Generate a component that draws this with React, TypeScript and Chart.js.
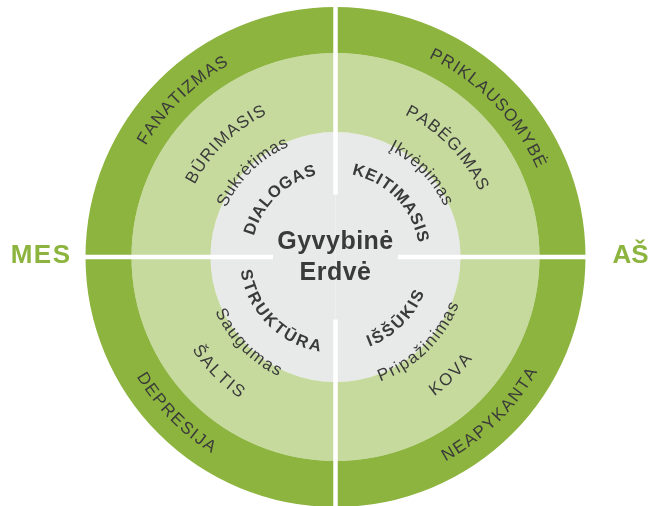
import React, { useEffect, useRef } from 'react';
import { Chart, registerables } from 'chart.js';

Chart.register(...registerables);

// ---- data ----
const quadrants = ['viršus dešinė', 'apačia dešinė', 'apačia kairė', 'viršus kairė'];
const segmentShare = [1, 1, 1, 1];
const outerLabels = ['PRIKLAUSOMYBĖ', 'NEAPYKANTA', 'DEPRESIJA', 'FANATIZMAS'];
const middleLabels = ['PABĖGIMAS', 'KOVA', 'ŠALTIS', 'BŪRIMASIS'];
const innerLabels = ['Įkvėpimas', 'Pripažinimas', 'Saugumas', 'Sukrėtimas'];
const coreLabels = ['KEITIMASIS', 'IŠŠŪKIS', 'STRUKTŪRA', 'DIALOGAS'];
const centerLines = ['Gyvybinė', 'Erdvė'];
const sideLabels = ['MES', 'AŠ'];

// ---- styles ----
const DARK = '#8CB43E';
const LIGHT = '#C6DA9E';
const GRAY = '#E8E9E9';
const TEXT = '#3A3A3A';
const FONT = '"Liberation Sans", Arial, Helvetica, sans-serif';
const CAP = 0.716;

function arcText(
  ctx: CanvasRenderingContext2D,
  text: string,
  cx: number,
  cy: number,
  r: number,
  mid: number,
  size: number,
  weight: string,
  spacing: number,
  color: string
) {
  ctx.save();
  ctx.font = `${weight} ${size}px ${FONT}`;
  ctx.fillStyle = color;
  ctx.textAlign = 'center';
  ctx.textBaseline = 'alphabetic';
  const capH = size * CAP;
  const chars = Array.from(text);
  const widths = chars.map((c) => ctx.measureText(c).width);
  const total = widths.reduce((a, b) => a + b, 0) + spacing * (chars.length - 1);
  const top = Math.sin(mid) < 0;
  let acc = 0;
  chars.forEach((ch, i) => {
    const off = (acc + widths[i] / 2 - total / 2) / r;
    acc += widths[i] + spacing;
    ctx.save();
    ctx.translate(cx, cy);
    if (top) {
      ctx.rotate(mid + off + Math.PI / 2);
      ctx.fillText(ch, 0, -r + capH / 2);
    } else {
      ctx.rotate(mid - off - Math.PI / 2);
      ctx.fillText(ch, 0, r + capH / 2);
    }
    ctx.restore();
  });
  ctx.restore();
}

const decorPlugin = {
  id: 'decor',
  afterDatasetsDraw(chart: any) {
    const ctx: CanvasRenderingContext2D = chart.ctx;
    const outer = chart.getDatasetMeta(0).data;
    const middle = chart.getDatasetMeta(1).data;
    const core = chart.getDatasetMeta(2).data;
    const cx = outer[0].x;
    const cy = outer[0].y;
    const R = outer[0].outerRadius;
    const coreR = core[0].outerRadius;

    // white separators
    ctx.save();
    ctx.strokeStyle = '#FFFFFF';
    ctx.lineWidth = 4.5;
    ctx.lineCap = 'butt';
    outer.forEach((arc: any) => {
      const a = arc.startAngle;
      const r0 = coreR * 0.5;
      const r1 = R + 4;
      ctx.beginPath();
      ctx.moveTo(cx + Math.cos(a) * r0, cy + Math.sin(a) * r0);
      ctx.lineTo(cx + Math.cos(a) * r1, cy + Math.sin(a) * r1);
      ctx.stroke();
    });
    ctx.restore();

    // ring labels
    outer.forEach((arc: any, i: number) => {
      const mid = (arc.startAngle + arc.endAngle) / 2 + 0.012;
      arcText(ctx, outerLabels[i], cx, cy, (arc.innerRadius + arc.outerRadius) / 2 - 1, mid, 17, 'normal', 1.4, TEXT);
      const m = middle[i];
      arcText(ctx, middleLabels[i], cx, cy, (m.innerRadius + m.outerRadius) / 2, mid, 17, 'normal', 1.6, TEXT);
      arcText(ctx, innerLabels[i], cx, cy, m.innerRadius + 1, mid, 17, 'normal', 1.0, TEXT);
      arcText(ctx, coreLabels[i], cx, cy, core[i].outerRadius * 0.72, mid, 16.5, 'bold', 1.5, TEXT);
    });

    // center text
    ctx.save();
    ctx.fillStyle = TEXT;
    ctx.font = `bold 25px ${FONT}`;
    ctx.textAlign = 'center';
    ctx.textBaseline = 'alphabetic';
    (ctx as any).letterSpacing = '0.5px';
    ctx.fillText(centerLines[0], cx, cy - 8);
    ctx.fillText(centerLines[1], cx, cy + 23);

    // side labels
    ctx.fillStyle = DARK;
    ctx.font = `bold 26px ${FONT}`;
    (ctx as any).letterSpacing = '1.5px';
    ctx.textAlign = 'right';
    ctx.fillText(sideLabels[0], cx - R - 14, cy + 6);
    (ctx as any).letterSpacing = '0px';
    ctx.textAlign = 'left';
    ctx.fillText(sideLabels[1], cx + R + 27, cy + 6);
    ctx.restore();
  },
};

export default function App() {
  const ref = useRef<HTMLCanvasElement | null>(null);
  useEffect(() => {
    if (!ref.current) return;
    const chart = new Chart(ref.current, {
      type: 'doughnut',
      data: {
        labels: quadrants,
        datasets: [
          { data: segmentShare, backgroundColor: DARK, borderWidth: 0, weight: 46 } as any,
          { data: segmentShare, backgroundColor: LIGHT, borderWidth: 0, weight: 79 } as any,
          { data: segmentShare, backgroundColor: GRAY, borderWidth: 0, weight: 125 } as any,
        ],
      },
      options: {
        responsive: false,
        animation: false,
        cutout: 0,
        events: [],
        layout: { padding: { left: 85.5, right: 66.5, top: 7, bottom: 1 } },
        plugins: { legend: { display: false }, tooltip: { enabled: false } },
      } as any,
      plugins: [decorPlugin],
    });
    return () => chart.destroy();
  }, []);
  return (
    <div style={{ position: 'fixed', left: 0, top: 0, width: 652, height: 506, overflow: 'hidden', background: '#fff' }}>
      <canvas ref={ref} width={652} height={508} style={{ display: 'block' }} />
    </div>
  );
}
